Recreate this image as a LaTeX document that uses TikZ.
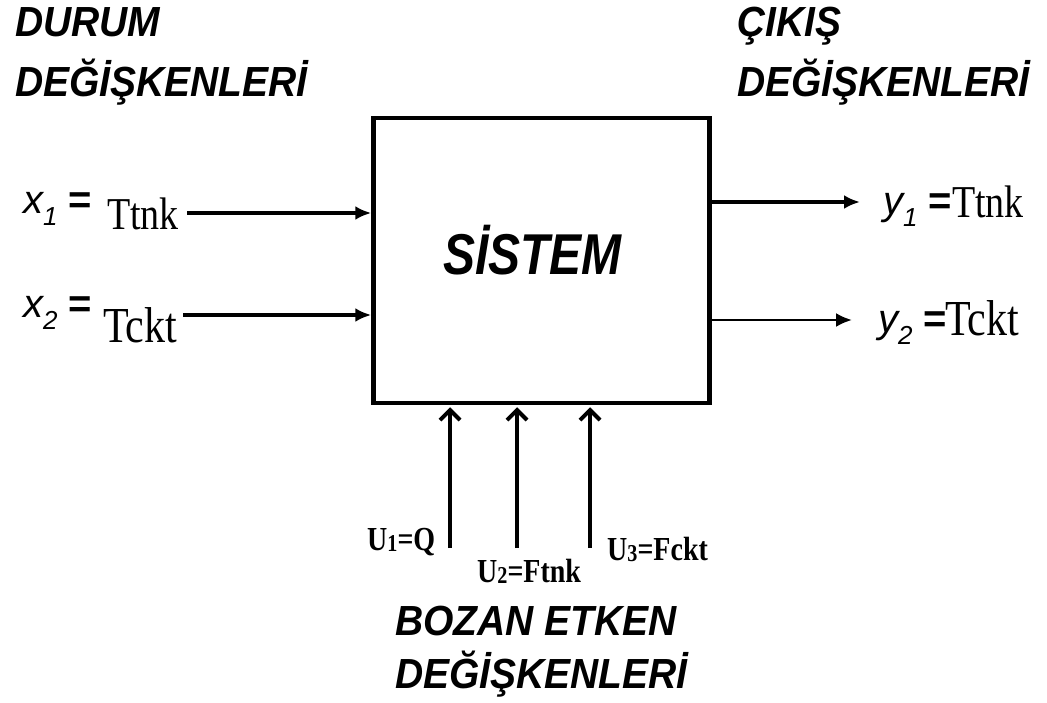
\documentclass[tikz,border=0pt]{standalone}
\usepackage{fontspec}
\usepackage{graphicx}
\setmainfont{Liberation Serif}
\setsansfont{Liberation Sans}
\usetikzlibrary{arrows.meta}

\newcommand{\vsub}[1]{\raisebox{-0.3em}{\scalebox{0.65}{#1}}}
\newcommand{\usub}[1]{\raisebox{-0.05em}{\scalebox{0.72}{#1}}}
\newcommand{\tall}[1]{\scalebox{1}[1.2]{#1}}
\newcommand{\eqs}{{\upshape\bfseries =}}

\tikzset{
  head/.style={anchor=base west, inner sep=0pt, font=\sffamily\bfseries\itshape\fontsize{39}{41}\selectfont},
  var/.style={anchor=base west, inner sep=0pt, font=\sffamily\itshape\fontsize{40}{42}\selectfont},
  val/.style={anchor=base west, inner sep=0pt},
  dist/.style={anchor=base west, inner sep=0pt, font=\bfseries\fontsize{28}{30}\selectfont},
  sig/.style={line width=3.5pt, -{Latex[length=16pt,width=14pt]}},
  up/.style={line width=4pt, shorten >=2pt, -{Straight Barb[length=10pt,width=20pt]}}
}

\begin{document}
\begin{tikzpicture}[x=1pt,y=-1pt]
    \useasboundingbox (0,0) rectangle (1047,703);

    % System block
    \node[draw, line width=4.5pt, minimum width=336pt, minimum height=285pt, inner sep=0pt] (sys) at (541.5,260.5) {};
    \node[anchor=base, inner sep=0pt, font=\sffamily\bfseries\itshape\fontsize{48}{50}\selectfont] (sysname) at (532.5,275) {\tall{SİSTEM}};

    % Headings
    \node[head] (stateA) at (15,37) {\scalebox{1}[1.08]{DURUM}};
    \node[head] (stateB) at (15,97) {\scalebox{1}[1.08]{DEĞİŞKENLERİ}};
    \node[head] (outA) at (737,37) {\scalebox{1}[1.08]{ÇIKIŞ}};
    \node[head] (outB) at (737,97) {\scalebox{1}[1.08]{DEĞİŞKENLERİ}};
    \node[head] (distA) at (395,635) {\scalebox{1}[1.08]{BOZAN ETKEN}};
    \node[head] (distB) at (395,688) {\scalebox{1}[1.08]{DEĞİŞKENLERİ}};

    % State variables
    \node[var] (x1) at (23,214) {x\vsub{1} \eqs};
    \node[val, font=\fontsize{38}{40}\selectfont] (x1v) at (107,230) {\tall{Ttnk}};
    \node[var] (x2) at (23,318) {x\vsub{2} \eqs};
    \node[val, font=\fontsize{42}{44}\selectfont] (x2v) at (103,342) {\tall{Tckt}};
    \coordinate (x1s) at (187,213);
    \coordinate (x2s) at (183,315);
    \draw[sig] (x1s) -- (x1s -| sys.west);
    \draw[sig] (x2s) -- (x2s -| sys.west);

    % Output variables
    \coordinate (y1e) at (860,202);
    \coordinate (y2e) at (852,320);
    \draw[sig, line width=4pt] (y1e -| sys.east) -- (y1e);
    \draw[sig, line width=2.5pt] (y2e -| sys.east) -- (y2e);
    \node[var] (y1) at (883,215) {y\vsub{1} \eqs};
    \node[val, font=\fontsize{38}{40}\selectfont] (y1v) at (952,218) {\tall{Ttnk}};
    \node[var] (y2) at (878,333) {y\vsub{2} \eqs};
    \node[val, font=\fontsize{42}{44}\selectfont] (y2v) at (945,335) {\tall{Tckt}};

    % Disturbances
    \foreach \n/\x in {1/450, 2/517, 3/590} {
        \coordinate (u\n) at (\x,548);
        \draw[up] (u\n) -- (u\n |- sys.south);
    }
    \node[dist] (u1lbl) at (367,550) {\tall{U\usub{1}=Q}};
    \node[dist] (u2lbl) at (477,582) {\tall{U\usub{2}=Ftnk}};
    \node[dist] (u3lbl) at (607,560) {\tall{U\usub{3}=Fckt}};
\end{tikzpicture}
\end{document}
